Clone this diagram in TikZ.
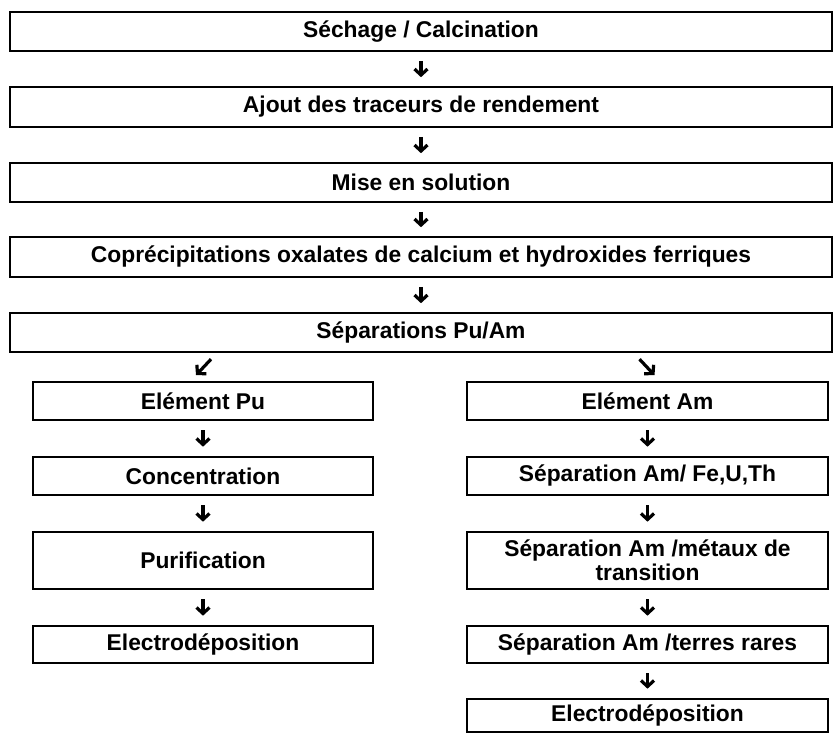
\documentclass[tikz,border=0pt]{standalone}
\usepackage{fontspec}
\setmainfont{Liberation Sans}
\usetikzlibrary{arrows.meta}
\begin{document}
\begin{tikzpicture}[x=1pt,y=-1pt,
  box/.style={draw,line width=1.6pt,rectangle,inner sep=0pt,align=center,
    font=\fontsize{22.8}{26}\selectfont\bfseries},
  wide/.style={box,minimum width=822pt},
  colbox/.style={box,minimum width=#1},
  flow/.style={line width=3.2pt,-{Straight Barb[length=6pt,width=13pt]}},
  down/.style={flow,shorten <=#1,shorten >=#1},
]
\useasboundingbox (0,0) rectangle (833,733);

% main sequence
\node[wide,minimum height=39pt] (s1) at (421,31.5) {Séchage / Calcination};
\node[wide,minimum height=40pt] (s2) at (421,107) {Ajout des traceurs de rendement};
\node[wide,minimum height=39pt] (s3) at (421,182.5) {Mise en solution};
\node[wide,minimum height=40pt] (s4) at (421,257) {Coprécipitations oxalates de calcium et hydroxides ferriques};
\node[wide,minimum height=39pt] (s5) at (421,332.5) {Séparations Pu/Am};

% plutonium branch
\node[colbox=340pt,minimum height=38pt] (pu) at (203,401) {Elément Pu};
\node[colbox=340pt,minimum height=38pt] (pc) at (203,476) {Concentration};
\node[colbox=340pt,minimum height=57pt] (pp) at (203,560.5) {Purification};
\node[colbox=340pt,minimum height=37pt] (pe) at (203,644.5) {Electrodéposition};

% americium branch
\node[colbox=361pt,minimum height=38pt] (am) at (647.5,401) {Elément Am};
\node[colbox=361pt,minimum height=38pt] (a1) at (647.5,476) {Séparation Am/ Fe,U,Th};
\node[colbox=361pt,minimum height=57pt] (a2) at (647.5,560.5) {Séparation Am /métaux de\\[-2pt]transition};
\node[colbox=361pt,minimum height=37pt] (a3) at (647.5,644.5) {Séparation Am /terres rares};
\node[colbox=361pt,minimum height=33pt] (a4) at (647.5,715.5) {Electrodéposition};

% arrows between steps
\draw[down=9pt] (s1.south) -- (s2.north);
\draw[down=9pt] (s2.south) -- (s3.north);
\draw[down=9pt] (s3.south) -- (s4.north);
\draw[down=9pt] (s4.south) -- (s5.north);

\draw[flow] ([shift={(8,-22)}]pu.north) -- ([shift={(-7,-6)}]pu.north);
\draw[flow] ([shift={(-8,-22)}]am.north) -- ([shift={(7,-6)}]am.north);

\draw[down=9.5pt] (pu.south) -- (pc.north);
\draw[down=9.5pt] (pc.south) -- (pp.north);
\draw[down=9.5pt] (pp.south) -- (pe.north);

\draw[down=9.5pt] (am.south) -- (a1.north);
\draw[down=9.5pt] (a1.south) -- (a2.north);
\draw[down=9.5pt] (a2.south) -- (a3.north);
\draw[down=9.5pt] (a3.south) -- (a4.north);
\end{tikzpicture}
\end{document}
